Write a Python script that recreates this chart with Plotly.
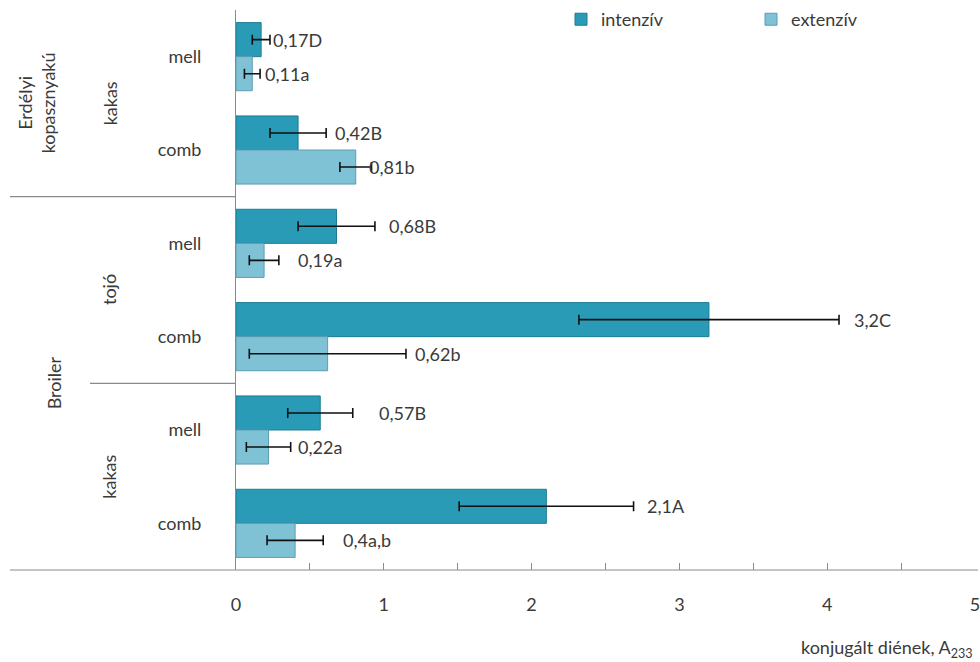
import plotly.graph_objects as go

# ---- data ----
breeds = ["Erdélyi kopasznyakú", "Erdélyi kopasznyakú", "Broiler", "Broiler", "Broiler", "Broiler"]
sexes = ["kakas", "kakas", "tojó", "tojó", "kakas", "kakas"]
parts = ["mell", "comb", "mell", "comb", "mell", "comb"]

intenziv = [0.17, 0.42, 0.68, 3.2, 0.57, 2.1]
intenziv_err = [0.06, 0.19, 0.26, 0.88, 0.22, 0.59]
intenziv_labels = ["0,17D", "0,42B", "0,68B", "3,2C", "0,57B", "2,1A"]

extenziv = [0.11, 0.81, 0.19, 0.62, 0.22, 0.4]
extenziv_err = [0.053, 0.107, 0.10, 0.53, 0.15, 0.19]
extenziv_labels = ["0,11a", "0,81b", "0,19a", "0,62b", "0,22a", "0,4a,b"]

x_title = "konjugált diének, A<sub>233</sub>"

# ---- style ----
FONT = "Lato, Calibri, sans-serif"
TXT = "#3a3a3a"
AXIS = "#8a8a8a"
C_INT = "#2A9BB7"
C_INT_LINE = "#1C7C94"
C_EXT = "#7FC2D6"
C_EXT_LINE = "#5C9DB2"
L, R, T, B = 236, 5, 10, 92
W, H = 980, 662
PW = W - L - R
# label pixel shifts from the error-bar end
int_shift = [1, 7, 12, 13, 24, 11]
ext_shift = [3, -5, 17, 7, 5, 18]

cats = [f"{b}|{s}|{p}|{i}" for i, (b, s, p) in enumerate(zip(breeds, sexes, parts))]

fig = go.Figure()
fig.add_trace(go.Bar(
    y=cats, x=intenziv, orientation="h", name="intenzív",
    marker=dict(color=C_INT, line=dict(color=C_INT_LINE, width=1)),
    error_x=dict(type="data", array=intenziv_err, visible=True, color="#111111", thickness=1.6, width=5),
))
fig.add_trace(go.Bar(
    y=cats, x=extenziv, orientation="h", name="extenzív",
    marker=dict(color=C_EXT, line=dict(color=C_EXT_LINE, width=1)),
    error_x=dict(type="data", array=extenziv_err, visible=True, color="#111111", thickness=1.6, width=5),
))

annotations = []
group_px = 93.33 * 0.73 / 4  # quarter of the bar group height
for i, c in enumerate(cats):
    annotations.append(dict(
        x=intenziv[i] + intenziv_err[i], y=i, xref="x", yref="y",
        text=intenziv_labels[i], showarrow=False, xanchor="left", yanchor="middle",
        xshift=int_shift[i], yshift=group_px, font=dict(family=FONT, size=18, color=TXT)))
    annotations.append(dict(
        x=extenziv[i] + extenziv_err[i], y=i, xref="x", yref="y",
        text=extenziv_labels[i], showarrow=False, xanchor="left", yanchor="middle",
        xshift=ext_shift[i], yshift=-group_px, font=dict(family=FONT, size=18, color=TXT)))

def px_to_paper(px):
    return (px - L) / PW

# group labels
groups = [
    ("kakas", 0.5, 110),
    ("tojó", 2.5, 109),
    ("kakas", 4.5, 109),
    ("Erdélyi<br>kopasznyakú", 0.5, 36),
    ("Broiler", 3.5, 54),
]
for text, yc, xpx in groups:
    annotations.append(dict(
        x=px_to_paper(xpx), y=yc, xref="paper", yref="y", text=text, textangle=-90,
        showarrow=False, xanchor="center", yanchor="middle",
        font=dict(family=FONT, size=18, color=TXT)))

annotations.append(dict(
    x=1.0, y=0, xref="paper", yref="paper", text=x_title, showarrow=False,
    xanchor="right", yanchor="middle", yshift=-78,
    font=dict(family=FONT, size=18, color=TXT)))

shapes = [
    dict(type="line", xref="paper", yref="paper", x0=px_to_paper(10), x1=px_to_paper(978), y0=0, y1=0,
         line=dict(color=AXIS, width=1.2)),
    dict(type="line", xref="paper", yref="y", x0=px_to_paper(10), x1=0, y0=1.5, y1=1.5,
         line=dict(color=AXIS, width=1.2)),
    dict(type="line", xref="paper", yref="y", x0=px_to_paper(90), x1=0, y0=3.5, y1=3.5,
         line=dict(color=AXIS, width=1.2)),
]

fig.update_layout(
    width=W, height=H,
    margin=dict(l=L, r=R, t=T, b=B, autoexpand=False),
    paper_bgcolor="white", plot_bgcolor="white",
    barmode="group", bargap=0.27, bargroupgap=0,
    font=dict(family=FONT, size=18, color=TXT),
    showlegend=True,
    legend=dict(orientation="h", x=px_to_paper(561), y=1.016, xanchor="left", yanchor="top",
                entrywidth=145, font=dict(family=FONT, size=18, color=TXT),
                bgcolor="rgba(0,0,0,0)", traceorder="normal"),
    annotations=annotations,
    shapes=shapes,
    xaxis=dict(range=[0, 5.0001], dtick=1, tick0=0,
               ticks="inside", ticklen=7, tickcolor=AXIS,
               minor=dict(dtick=0.5, ticks="inside", ticklen=7, tickcolor=AXIS, showgrid=False),
               showgrid=False, zeroline=False, automargin=False,
               showline=False, ticklabelstandoff=22, ticklabeloverflow="allow",
               tickfont=dict(family=FONT, size=18, color=TXT)),
    yaxis=dict(type="category", categoryorder="array", categoryarray=cats,
               range=[5.5, -0.5], tickvals=cats, ticktext=parts, automargin=False,
               showline=True, linecolor=AXIS, linewidth=1.2, ticks="", showgrid=False,
               zeroline=False, ticklabelstandoff=30,
               tickfont=dict(family=FONT, size=18, color=TXT)),
)

fig.write_html(
    "out.html",
    config={"displayModeBar": False},
    post_script="document.body.style.margin='0';document.body.style.overflow='hidden';",
)
